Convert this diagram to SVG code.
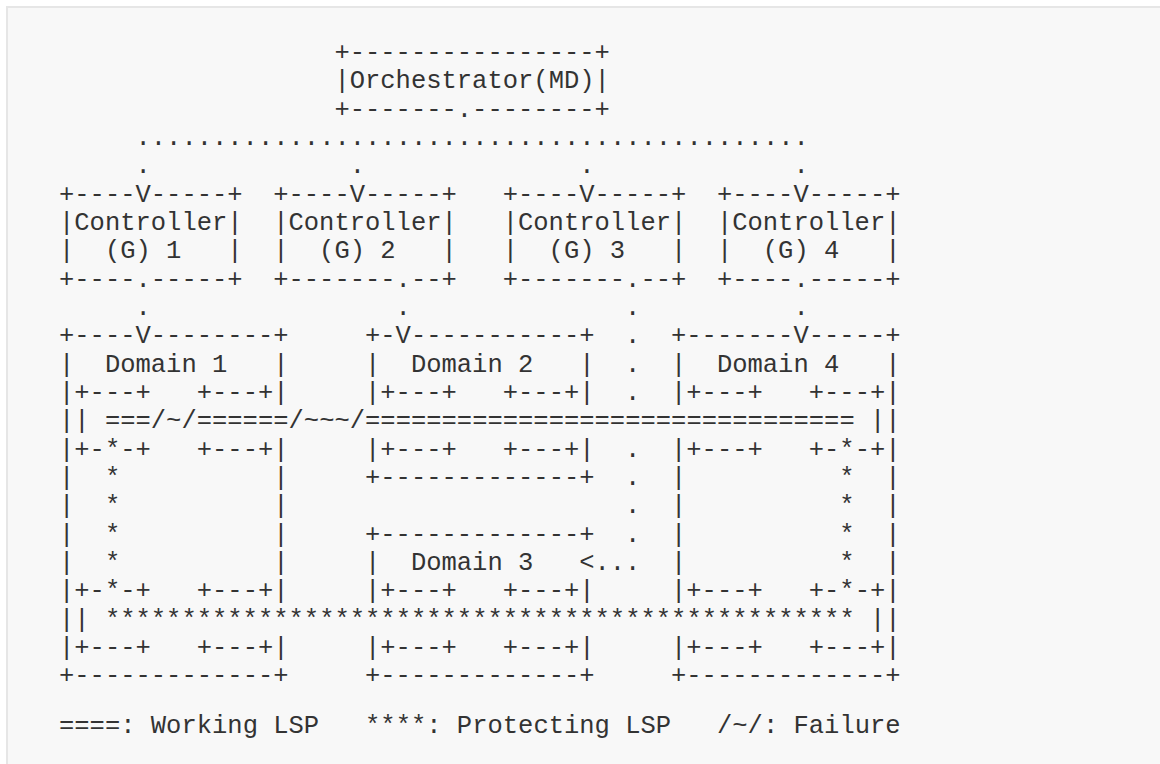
<svg xmlns="http://www.w3.org/2000/svg" width="1160" height="764" viewBox="0 0 1160 764">
<style>
.t{font-family:"Liberation Mono","DejaVu Sans Mono",monospace;font-size:25.5px;fill:#333333;white-space:pre}
</style>
<rect x="0" y="0" width="1160" height="764" fill="#ffffff"/>
<rect x="7" y="7" width="1170" height="770" fill="#f8f8f8" stroke="#e6e6e6" stroke-width="2"/>

<g id="orchestrator">
<text class="t" xml:space="preserve" x="334.4" y="60">+----------------+</text>
<text class="t" xml:space="preserve" x="334.4" y="88.33">|Orchestrator(MD)|</text>
<text class="t" xml:space="preserve" x="334.4" y="116.66">+-------.--------+</text>
</g>

<g id="controller-1">
<text class="t" xml:space="preserve" x="59" y="201.65">+----V-----+</text>
<text class="t" xml:space="preserve" x="59" y="229.98">|Controller|</text>
<text class="t" xml:space="preserve" x="59" y="258.3">|  (G) 1   |</text>
<text class="t" xml:space="preserve" x="59" y="286.6">+----.-----+</text>
</g>
<g id="controller-2">
<text class="t" xml:space="preserve" x="273.2" y="201.65">+----V-----+</text>
<text class="t" xml:space="preserve" x="273.2" y="229.98">|Controller|</text>
<text class="t" xml:space="preserve" x="273.2" y="258.3">|  (G) 2   |</text>
<text class="t" xml:space="preserve" x="273.2" y="286.6">+-------.--+</text>
</g>
<g id="controller-3">
<text class="t" xml:space="preserve" x="502.7" y="201.65">+----V-----+</text>
<text class="t" xml:space="preserve" x="502.7" y="229.98">|Controller|</text>
<text class="t" xml:space="preserve" x="502.7" y="258.3">|  (G) 3   |</text>
<text class="t" xml:space="preserve" x="502.7" y="286.6">+-------.--+</text>
</g>
<g id="controller-4">
<text class="t" xml:space="preserve" x="716.9" y="201.65">+----V-----+</text>
<text class="t" xml:space="preserve" x="716.9" y="229.98">|Controller|</text>
<text class="t" xml:space="preserve" x="716.9" y="258.3">|  (G) 4   |</text>
<text class="t" xml:space="preserve" x="716.9" y="286.6">+----.-----+</text>
</g>

<g id="domain-1">
<text class="t" xml:space="preserve" x="59" y="343.3">+----V--------+</text>
<text class="t" xml:space="preserve" x="59" y="371.6">|  Domain 1   |</text>
<text class="t" xml:space="preserve" x="59" y="400">|+---+   +---+|</text>
<text class="t" xml:space="preserve" x="59" y="428.3">||</text>
<text class="t" xml:space="preserve" x="59" y="456.6">|+-*-+   +---+|</text>
<text class="t" x="59" y="484.95">|</text><text class="t" x="273.2" y="484.95">|</text>
<text class="t" x="59" y="513.3">|</text><text class="t" x="273.2" y="513.3">|</text>
<text class="t" x="59" y="541.6">|</text><text class="t" x="273.2" y="541.6">|</text>
<text class="t" x="59" y="569.9">|</text><text class="t" x="273.2" y="569.9">|</text>
<text class="t" xml:space="preserve" x="59" y="598.3">|+-*-+   +---+|</text>
<text class="t" xml:space="preserve" x="59" y="626.6">||</text>
<text class="t" xml:space="preserve" x="59" y="654.9">|+---+   +---+|</text>
<text class="t" xml:space="preserve" x="59" y="683.3">+-------------+</text>
</g>

<g id="domain-2">
<text class="t" xml:space="preserve" x="365" y="343.3">+-V-----------+</text>
<text class="t" xml:space="preserve" x="365" y="371.6">|  Domain 2   |</text>
<text class="t" xml:space="preserve" x="365" y="400">|+---+   +---+|</text>
<text class="t" xml:space="preserve" x="365" y="456.6">|+---+   +---+|</text>
<text class="t" xml:space="preserve" x="365" y="484.95">+-------------+</text>
</g>

<g id="domain-3">
<text class="t" xml:space="preserve" x="365" y="541.6">+-------------+</text>
<text class="t" xml:space="preserve" x="365" y="569.9">|  Domain 3</text>
<text class="t" xml:space="preserve" x="365" y="598.3">|+---+   +---+|</text>
<text class="t" xml:space="preserve" x="365" y="654.9">|+---+   +---+|</text>
<text class="t" xml:space="preserve" x="365" y="683.3">+-------------+</text>
</g>

<g id="domain-4">
<text class="t" xml:space="preserve" x="671" y="343.3">+-------V-----+</text>
<text class="t" xml:space="preserve" x="671" y="371.6">|  Domain 4   |</text>
<text class="t" xml:space="preserve" x="671" y="400">|+---+   +---+|</text>
<text class="t" xml:space="preserve" x="869.9" y="428.3">||</text>
<text class="t" xml:space="preserve" x="671" y="456.6">|+---+   +-*-+|</text>
<text class="t" x="671" y="484.95">|</text><text class="t" x="885.2" y="484.95">|</text>
<text class="t" x="671" y="513.3">|</text><text class="t" x="885.2" y="513.3">|</text>
<text class="t" x="671" y="541.6">|</text><text class="t" x="885.2" y="541.6">|</text>
<text class="t" x="671" y="569.9">|</text><text class="t" x="885.2" y="569.9">|</text>
<text class="t" xml:space="preserve" x="671" y="598.3">|+---+   +-*-+|</text>
<text class="t" xml:space="preserve" x="869.9" y="626.6">||</text>
<text class="t" xml:space="preserve" x="671" y="654.9">|+---+   +---+|</text>
<text class="t" xml:space="preserve" x="671" y="683.3">+-------------+</text>
</g>

<g id="connectors">
<text class="t" xml:space="preserve" x="135.5" y="145">............................................</text>
<text class="t" x="135.5" y="173.3">.</text><text class="t" x="349.7" y="173.3">.</text><text class="t" x="579.2" y="173.3">.</text><text class="t" x="793.4" y="173.3">.</text>
<text class="t" x="135.5" y="315">.</text><text class="t" x="395.6" y="315">.</text><text class="t" x="625.1" y="315">.</text><text class="t" x="793.4" y="315">.</text>
<text class="t" x="625.1" y="343.3">.</text>
<text class="t" x="625.1" y="371.6">.</text>
<text class="t" x="625.1" y="400">.</text>
<text class="t" x="625.1" y="456.6">.</text>
<text class="t" x="625.1" y="484.95">.</text>
<text class="t" x="625.1" y="513.3">.</text>
<text class="t" x="625.1" y="541.6">.</text>
<text class="t" xml:space="preserve" x="579.2" y="569.9">&lt;...</text>
<text class="t" xml:space="preserve" x="104.9" y="428.3">===/~/======/~~~/================================</text>
<text class="t" xml:space="preserve" x="104.9" y="626.6">*************************************************</text>
<text class="t" x="104.9" y="484.95">*</text>
<text class="t" x="104.9" y="513.3">*</text>
<text class="t" x="104.9" y="541.6">*</text>
<text class="t" x="104.9" y="569.9">*</text>
<text class="t" x="839.3" y="484.95">*</text>
<text class="t" x="839.3" y="513.3">*</text>
<text class="t" x="839.3" y="541.6">*</text>
<text class="t" x="839.3" y="569.9">*</text>
</g>

<g id="legend">
<text class="t" xml:space="preserve" x="59" y="733">====: Working LSP   ****: Protecting LSP   /~/: Failure</text>
</g>
</svg>
